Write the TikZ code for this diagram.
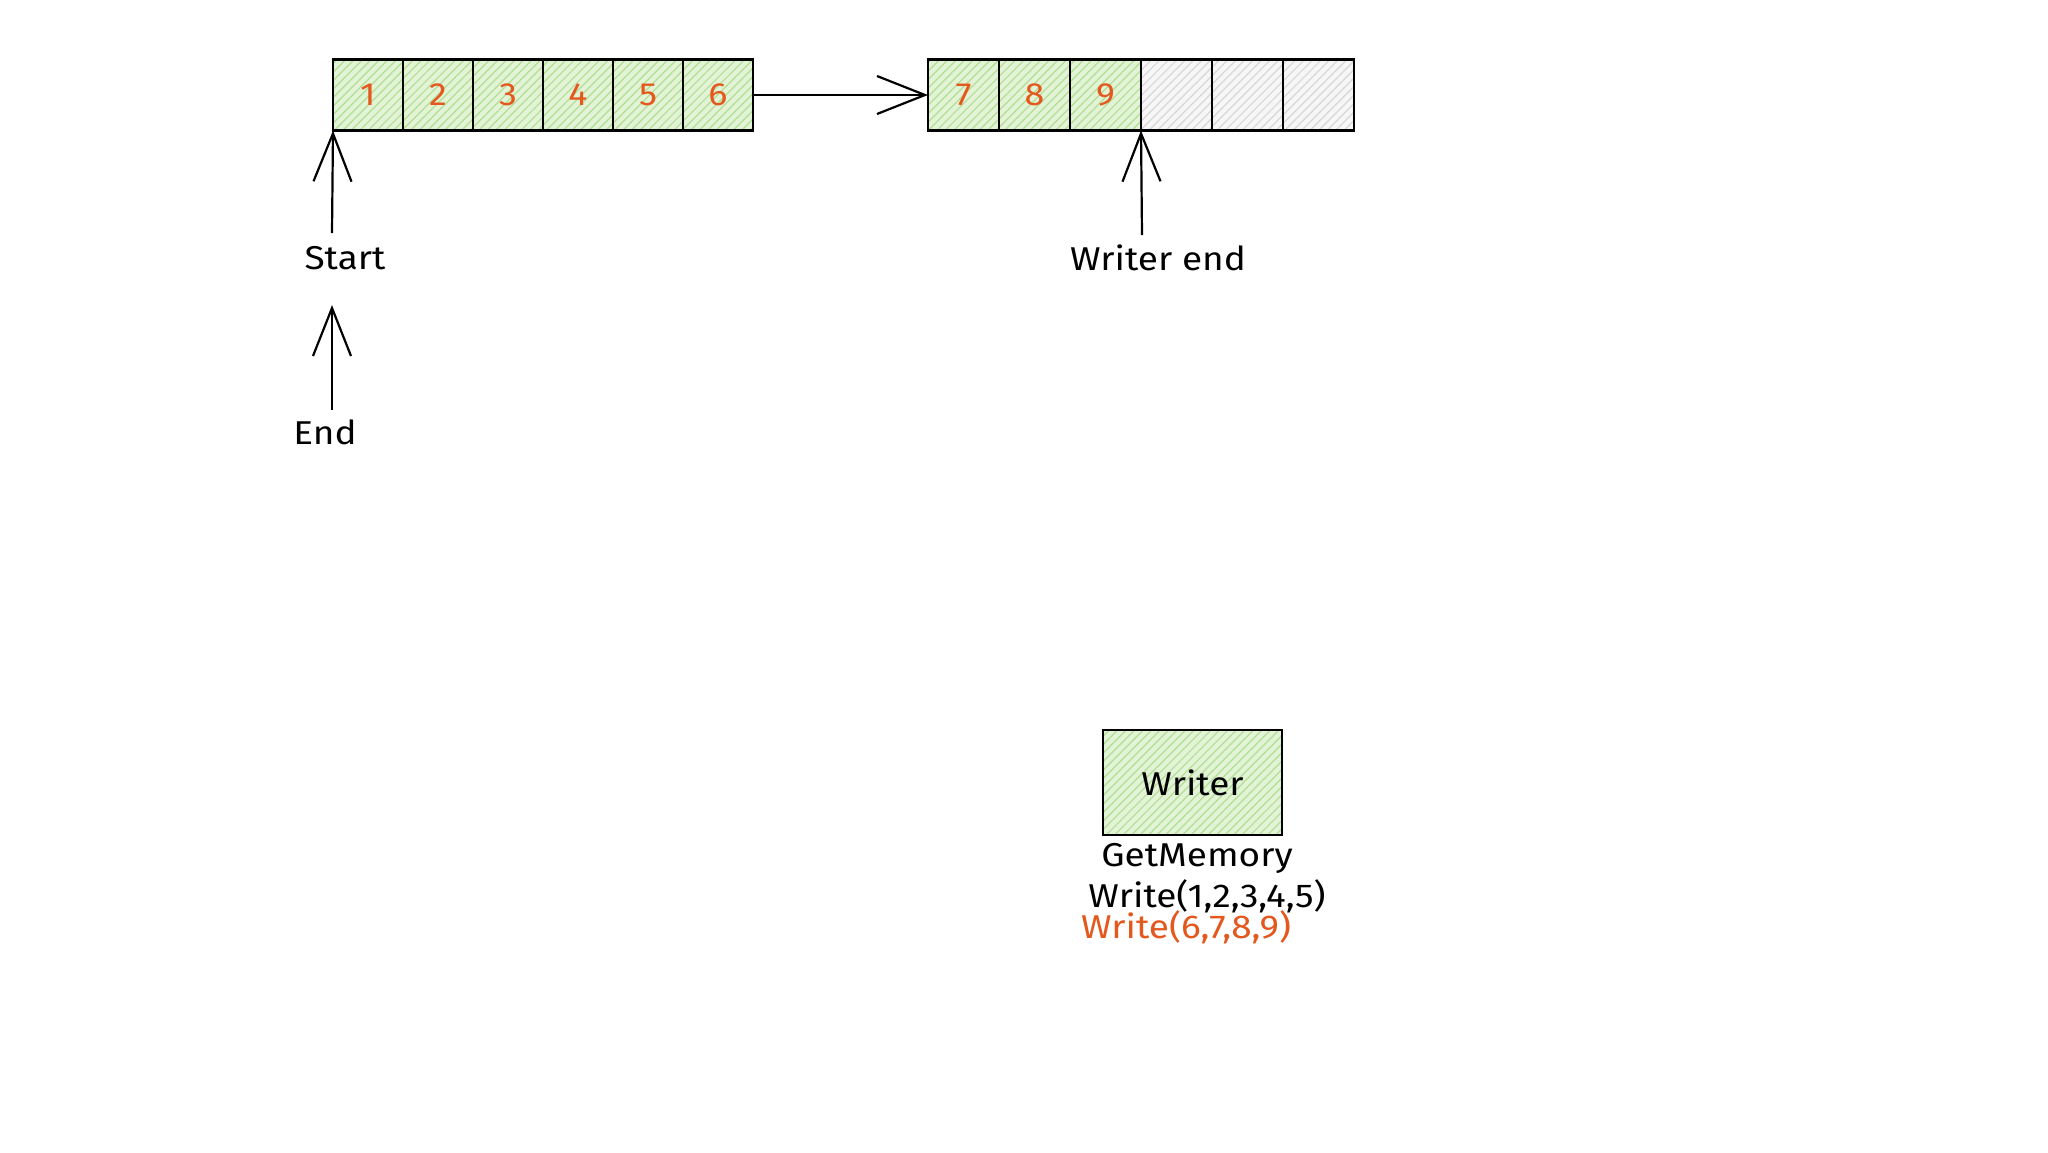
\documentclass[tikz,border=0pt]{standalone}
\usepackage{fontspec}
\setmainfont[FakeStretch=1.12]{Fira Sans}
\usetikzlibrary{arrows.meta,patterns.meta}
\definecolor{numred}{RGB}{228,88,30}
\definecolor{cellgreen}{RGB}{226,243,214}
\definecolor{hatchgreen}{RGB}{178,222,150}
\definecolor{cellgray}{RGB}{246,246,246}
\definecolor{hatchgray}{RGB}{215,215,215}
\tikzset{
  cellbase/.style={draw=none,
    minimum width=70pt, minimum height=71pt, inner sep=0pt, outer sep=0pt,
    text=numred, font=\fontsize{32}{36}\selectfont},
  greencell/.style={cellbase, fill=cellgreen,
    postaction={pattern={Lines[angle=45,distance=6pt,line width=1.2pt]}, pattern color=hatchgreen},
    postaction={draw=black, line width=2.6pt}},
  graycell/.style={cellbase, fill=cellgray,
    postaction={pattern={Lines[angle=45,distance=6pt,line width=1.2pt]}, pattern color=hatchgray},
    postaction={draw=black, line width=2.6pt}},
  lbl/.style={font=\fontsize{33}{37}\selectfont, inner sep=0pt},
  arr/.style={line width=2.2pt, -{Straight Barb[length=48pt,width=38pt,line width=2.2pt]}},
}
\begin{document}
\begin{tikzpicture}[x=1pt,y=-1pt]
\useasboundingbox[fill=white] (0,0) rectangle (2048,1152);
% row 1
\node[greencell] (c1) at (368,95) {1};
\node[greencell] (c2) at (438,95) {2};
\node[greencell] (c3) at (508,95) {3};
\node[greencell] (c4) at (578,95) {4};
\node[greencell] (c5) at (648,95) {5};
\node[greencell] (c6) at (718,95) {6};
% row 2
\node[greencell, minimum width=71pt] (d1) at (963.5,95) {7};
\node[greencell, minimum width=71pt] (d2) at (1034.5,95) {8};
\node[greencell, minimum width=71pt] (d3) at (1105.5,95) {9};
\node[graycell, minimum width=71pt] (d4) at (1176.5,95) {};
\node[graycell, minimum width=71pt] (d5) at (1247.5,95) {};
\node[graycell, minimum width=71pt] (d6) at (1318.5,95) {};
% link arrow
\draw[arr] (c6.east) -- (d1.west);
% labels
\node[lbl] (start) at (345,258) {Start};
\node[lbl] (endl) at (325,432) {End};
\node[lbl] (wend) at (1158,258) {Writer end};
\coordinate (sa) at (332,233);
\coordinate (ea) at (332,410);
\coordinate (eb) at (332,305);
\coordinate (wa) at (1142,235);
\draw[arr] (sa) -- (c1.south west);
\draw[arr] (ea) -- (eb);
\draw[arr] (wa) -- (d3.south east);
% writer box
\node[greencell, minimum width=179pt, minimum height=105pt, text=black, font=\fontsize{33}{37}\selectfont] (writer) at (1192.5,782.5) {Writer};
\node[lbl] (gm) at (1197,858) {GetMemory};
\node[lbl] (w1) at (1207,896) {Write(1,2,3,4,5)};
\node[lbl, text=numred] (w2) at (1186,927) {Write(6,7,8,9)};
\end{tikzpicture}
\end{document}
